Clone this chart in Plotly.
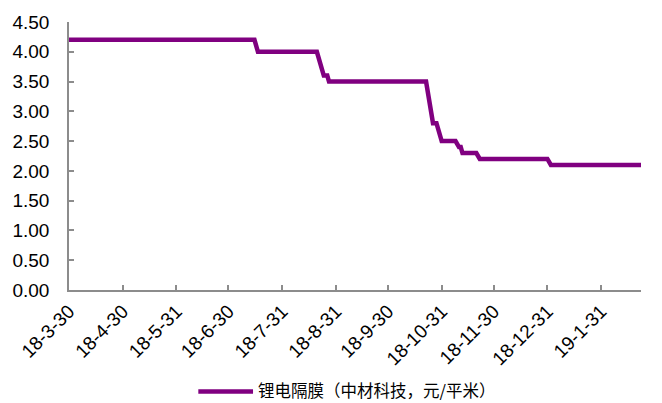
import plotly.graph_objects as go

# Lithium battery separator price (Sinoma Science & Technology), yuan per square metre
dates = [
    "2018-03-30", "2018-07-15", "2018-07-17", "2018-08-20", "2018-08-24",
    "2018-08-26", "2018-08-27", "2018-10-22", "2018-10-26", "2018-10-28",
    "2018-10-31", "2018-11-08", "2018-11-10", "2018-11-11", "2018-11-12",
    "2018-11-20", "2018-11-22", "2018-12-31", "2019-01-02", "2019-02-23",
]
prices = [
    4.20, 4.20, 4.00, 4.00, 3.60,
    3.60, 3.50, 3.50, 2.80, 2.80,
    2.50, 2.50, 2.40, 2.40, 2.30,
    2.30, 2.20, 2.20, 2.10, 2.10,
]
series_name = "锂电隔膜（中材科技，元/平米）"

tick_dates = [
    "2018-03-30", "2018-04-30", "2018-05-31", "2018-06-30", "2018-07-31",
    "2018-08-31", "2018-09-30", "2018-10-31", "2018-11-30", "2018-12-31",
    "2019-01-31",
]
tick_labels = [
    "18-3-30", "18-4-30", "18-5-31", "18-6-30", "18-7-31",
    "18-8-31", "18-9-30", "18-10-31", "18-11-30", "18-12-31",
    "19-1-31",
]

LINE_COLOR = "#800080"
AXIS_COLOR = "#8c8c8c"
FONT = "Liberation Sans, Arial, sans-serif"

fig = go.Figure()
fig.add_trace(go.Scatter(
    x=dates, y=prices, mode="lines", name=series_name,
    line=dict(color=LINE_COLOR, width=4.5),
    showlegend=False,
))

fig.update_layout(
    width=662, height=403,
    margin=dict(l=66, r=21, t=22, b=113),
    paper_bgcolor="white", plot_bgcolor="white",
    font=dict(family=FONT, size=19, color="#000000"),
)

fig.update_xaxes(
    type="date",
    range=[dates[0], dates[-1]],
    tickmode="array", tickvals=tick_dates, ticktext=tick_labels,
    tickangle=-45,
    ticks="inside", ticklen=5, tickwidth=1.5, tickcolor=AXIS_COLOR,
    showline=True, linecolor=AXIS_COLOR, linewidth=1.5,
    showgrid=False, zeroline=False,
    ticklabelstandoff=1,
)
fig.update_yaxes(
    range=[0, 4.5], dtick=0.5, tick0=0, tickformat=".2f",
    ticks="inside", ticklen=5, tickwidth=1.5, tickcolor=AXIS_COLOR,
    showline=True, linecolor=AXIS_COLOR, linewidth=1.5,
    showgrid=False, zeroline=False,
    ticklabelstandoff=14,
)

# Legend: line sample plus label, centred under the plot
fig.add_shape(
    type="line", xref="paper", yref="paper",
    x0=(196 - 66) / 575, x1=(251 - 66) / 575,
    y0=-(392 - 290.3) / 268.6, y1=-(392 - 290.3) / 268.6,
    line=dict(color=LINE_COLOR, width=4.5),
)
fig.add_annotation(
    xref="paper", yref="paper",
    x=(254 - 66) / 575, y=-(390.5 - 290.3) / 268.6,
    xanchor="left", yanchor="middle", showarrow=False,
    text=series_name,
    font=dict(family="Noto Sans CJK SC, sans-serif", size=16.5, color="#000000"),
)

fig.write_html("out.html")
